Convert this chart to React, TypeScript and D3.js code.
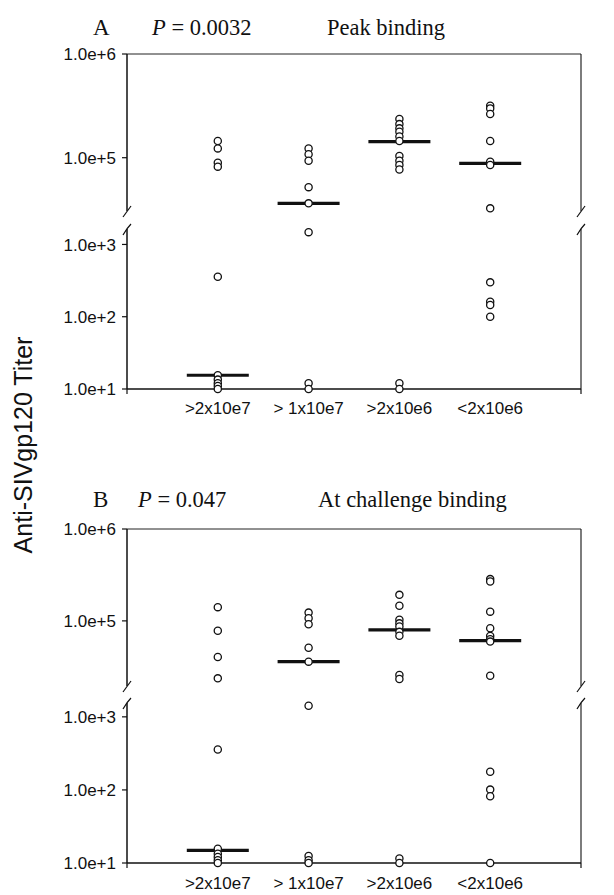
import React from "react";
import * as d3 from "d3";

const categories = [">2x10e7", "> 1x10e7", ">2x10e6", "<2x10e6"];

// Panel A: Peak binding
const peakValues: number[][] = [
  [145000, 123000, 89500, 82000, 357, 15.5, 13.5, 12, 11, 10],
  [123000, 108000, 93500, 52000, 36300, 1480, 12, 10],
  [236000, 211000, 192000, 178000, 160000, 145000, 104000, 93500, 85000, 77000, 12, 10],
  [317000, 299000, 264000, 145000, 91500, 85000, 32500, 299, 161, 145, 100],
];
const peakMedians = [15.5, 36300, 143000, 88300];

// Panel B: At challenge binding
const challengeValues: number[][] = [
  [141000, 78000, 40500, 23700, 357, 15.7, 13.4, 12.1, 10.9, 10],
  [123000, 107000, 92000, 51000, 36000, 1420, 12.5, 10.9, 10],
  [192000, 146000, 103000, 94000, 87000, 76000, 69000, 25800, 23300, 11.5, 10],
  [285000, 268000, 126000, 83000, 68600, 63000, 59500, 25300, 177, 101, 82, 10],
];
const challengeMedians = [14.9, 36000, 79800, 61000];

const upperTicks = [1e5, 1e6];
const lowerTicks = [1e1, 1e2, 1e3];

const peakUpperDomain = [29300, 1e6];
const peakLowerDomain = [10, 1800];
const challengeUpperDomain = [18600, 1e6];
const challengeLowerDomain = [10, 1700];

const BREAK_VALUE = 1e4;

const fmt = (v: number) => {
  const e = Math.round(Math.log10(v));
  return `1.0e+${e}`;
};

type PanelProps = {
  letter: string;
  pText: string;
  title: string;
  values: number[][];
  medians: number[];
  upperDomain: number[];
  lowerDomain: number[];
  upperRange: [number, number]; // [bottom, top]
  lowerRange: [number, number];
  headerBaseline: number;
  pX: number;
  titleX: number;
  labelBaseline: number;
};

const LEFT = 127;
const RIGHT = 581;

function Panel(p: PanelProps) {
  const x = d3.scaleLinear().domain([0, 5]).range([LEFT, RIGHT]);
  const yU = d3.scaleLog().domain(p.upperDomain).range(p.upperRange);
  const yL = d3.scaleLog().domain(p.lowerDomain).range(p.lowerRange);
  const y = (v: number) => (v >= BREAK_VALUE ? yU(v) : yL(v));

  const uTop = p.upperRange[1];
  const uBot = p.upperRange[0];
  const lTop = p.lowerRange[1];
  const lBot = p.lowerRange[0];

  const sans = "'Liberation Sans', Arial, sans-serif";
  const serif = "'Liberation Serif', 'Times New Roman', serif";

  const breakMarks = (xx: number, w: number) => (
    <g stroke="#111" strokeWidth={w} fill="none">
      <line x1={xx} y1={uTop} x2={xx} y2={uBot - 2} />
      <path d={`M${xx - 4},${uBot + 4} L${xx + 4},${uBot - 7}`} strokeWidth={1.2} />
      <line x1={xx} y1={lTop + 3} x2={xx} y2={lBot} />
      <path d={`M${xx - 4},${lTop + 9} Q${xx},${lTop + 2} ${xx + 4},${lTop - 2}`} strokeWidth={1.2} />
    </g>
  );

  return (
    <g>
      {/* header */}
      <text x={93} y={p.headerBaseline} fontFamily={serif} fontSize={23} fill="#111">
        {p.letter}
      </text>
      <text x={p.pX} y={p.headerBaseline} fontFamily={serif} fontSize={22.5} fill="#111">
        <tspan fontStyle="italic">P</tspan>
        {` = ${p.pText}`}
      </text>
      <text x={p.titleX} y={p.headerBaseline} fontFamily={serif} fontSize={22.5} fill="#111">
        {p.title}
      </text>

      {/* frame */}
      <line x1={LEFT} y1={uTop} x2={RIGHT} y2={uTop} stroke="#222" strokeWidth={1} />
      <line x1={LEFT} y1={lBot} x2={RIGHT} y2={lBot} stroke="#111" strokeWidth={1.3} />
      <line x1={LEFT} y1={lBot} x2={LEFT} y2={lBot + 5} stroke="#111" strokeWidth={1.2} />
      <line x1={RIGHT} y1={lBot} x2={RIGHT} y2={lBot + 5} stroke="#111" strokeWidth={1.2} />
      {breakMarks(LEFT, 1.5)}
      {breakMarks(RIGHT, 1.1)}

      {/* y ticks */}
      {upperTicks.map((t) => (
        <g key={"u" + t}>
          <line x1={LEFT - 5} x2={LEFT} y1={yU(t)} y2={yU(t)} stroke="#111" strokeWidth={1.2} />
          <text x={116} y={yU(t)} dy="0.36em" textAnchor="end" fontFamily={sans} fontSize={17} fill="#111">
            {fmt(t)}
          </text>
        </g>
      ))}
      {lowerTicks.map((t) => (
        <g key={"l" + t}>
          <line x1={LEFT - 5} x2={LEFT} y1={yL(t)} y2={yL(t)} stroke="#111" strokeWidth={1.2} />
          <text x={116} y={yL(t)} dy="0.36em" textAnchor="end" fontFamily={sans} fontSize={17} fill="#111">
            {fmt(t)}
          </text>
        </g>
      ))}

      {/* x labels */}
      {categories.map((c, i) => (
        <text key={c} x={x(i + 1)} y={p.labelBaseline} textAnchor="middle" fontFamily={sans} fontSize={17} fill="#111">
          {c}
        </text>
      ))}

      {/* medians */}
      {p.medians.map((m, i) => (
        <line
          key={"m" + i}
          x1={x(i + 1) - 31}
          x2={x(i + 1) + 31}
          y1={y(m)}
          y2={y(m)}
          stroke="#111"
          strokeWidth={3.2}
        />
      ))}

      {/* points */}
      {p.values.map((arr, i) =>
        arr.map((v, j) => (
          <circle
            key={`c${i}-${j}`}
            cx={x(i + 1)}
            cy={y(v)}
            r={3.6}
            fill="white"
            stroke="#111"
            strokeWidth={1.3}
          />
        ))
      )}
    </g>
  );
}

export default function App() {
  return (
    <svg
      width={614}
      height={895}
      style={{ position: "absolute", left: 0, top: 0, background: "white" }}
    >
      <rect x={0} y={0} width={614} height={895} fill="white" />
      <text
        transform="translate(23,445) rotate(-90)"
        textAnchor="middle"
        dy="0.36em"
        fontFamily="'Liberation Sans', Arial, sans-serif"
        fontSize={25}
        fill="#111"
      >
        Anti-SIVgp120 Titer
      </text>
      <Panel
        letter="A"
        pText="0.0032"
        title="Peak binding"
        values={peakValues}
        medians={peakMedians}
        upperDomain={peakUpperDomain}
        lowerDomain={peakLowerDomain}
        upperRange={[213, 54]}
        lowerRange={[389, 226]}
        headerBaseline={35}
        pX={152}
        titleX={327}
        labelBaseline={414}
      />
      <Panel
        letter="B"
        pText="0.047"
        title="At challenge binding"
        values={challengeValues}
        medians={challengeMedians}
        upperDomain={challengeUpperDomain}
        lowerDomain={challengeLowerDomain}
        upperRange={[688, 529]}
        lowerRange={[863, 700]}
        headerBaseline={507}
        pX={138}
        titleX={318}
        labelBaseline={889}
      />
    </svg>
  );
}
